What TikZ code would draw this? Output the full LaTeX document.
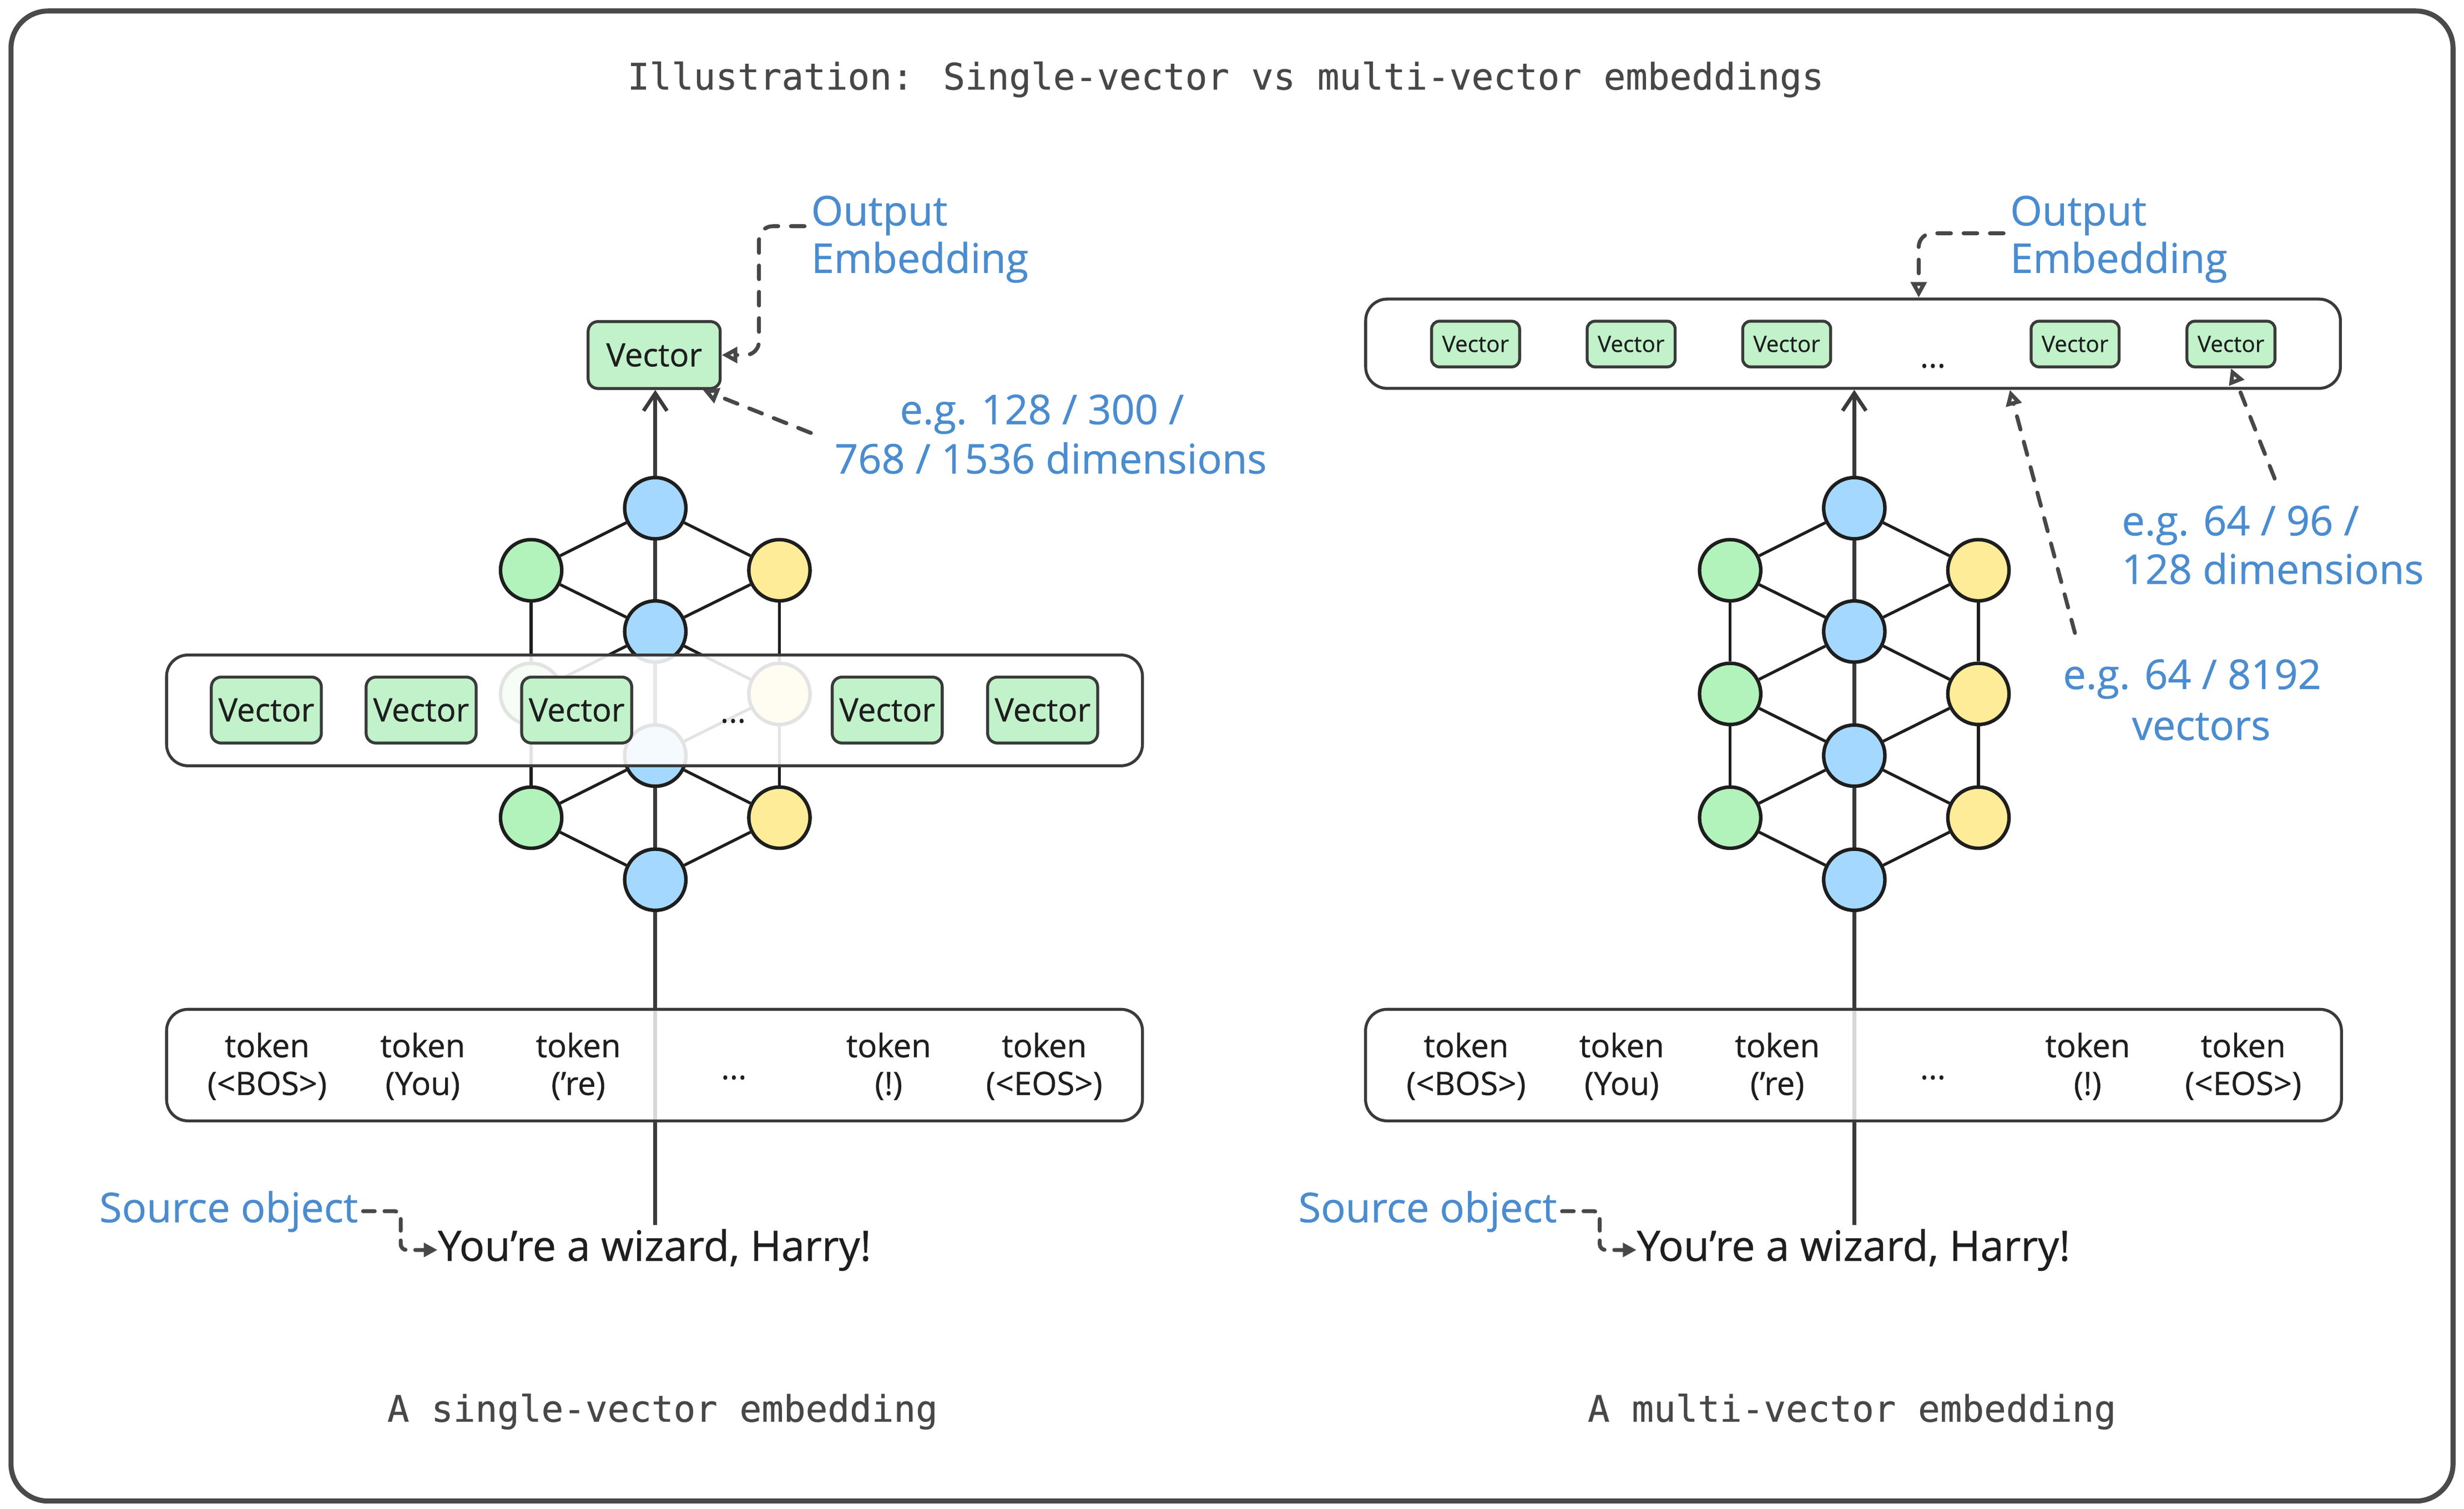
\documentclass[tikz,border=0pt]{standalone}
\usepackage{fontspec}
\usetikzlibrary{arrows.meta,calc}
\newfontfamily\handfont[FakeBold=0.6]{Open Sans}
\newfontfamily\titlefont[FakeBold=0.4]{DejaVu Sans Mono}
\definecolor{ink}{HTML}{1E1E1E}
\definecolor{boxline}{HTML}{3A3A3A}
\definecolor{framegray}{HTML}{4A4A4A}
\definecolor{dashgray}{HTML}{474747}
\definecolor{annblue}{HTML}{4A8CCF}
\definecolor{gfill}{HTML}{B2F2BB}
\definecolor{bfill}{HTML}{A5D8FF}
\definecolor{yfill}{HTML}{FFEC99}
\definecolor{vfill}{HTML}{C1F2CA}
\definecolor{capgray}{HTML}{474747}
\pgfdeclarelayer{edges}
\pgfdeclarelayer{veil}
\pgfdeclarelayer{front}
\pgfsetlayers{edges,main,veil,front}
\tikzset{
  netnode/.style={circle, draw=ink, line width=1.8pt, minimum size=31.4pt, inner sep=0pt},
  bnode/.style={netnode, fill=bfill},
  gnode/.style={netnode, fill=gfill},
  ynode/.style={netnode, fill=yfill},
  netedge/.style={draw=ink, line width=1.5pt},
  vecbig/.style={draw=boxline, fill=vfill, line width=1.5pt, rounded corners=5pt,
    minimum width=67.7pt, minimum height=34.3pt, inner sep=0pt,
    font=\handfont\fontsize{16.5}{19}\selectfont, text=ink},
  vecmid/.style={vecbig, minimum width=56.4pt, minimum height=33.8pt},
  vecsmall/.style={vecbig, minimum width=45.1pt, minimum height=23.4pt, rounded corners=4pt,
    font=\handfont\fontsize{11.5}{13}\selectfont},
  panel/.style={draw=boxline, line width=1.5pt, rounded corners=11pt, fill=white,
    minimum width=500.3pt, inner sep=0pt},
  tok/.style={font=\handfont\fontsize{16.5}{19}\selectfont, text=ink, inner sep=0pt, anchor=base},
  ann/.style={font=\handfont\fontsize{21}{25}\selectfont, text=annblue, inner sep=0pt},
  sentence/.style={font=\handfont\fontsize{21.5}{25}\selectfont, text=ink, inner sep=0pt, anchor=base west},
  captext/.style={font=\titlefont\fontsize{18.75}{22}\selectfont, text=capgray, inner sep=0pt, anchor=base},
  mainarrow/.style={draw=boxline, line width=1.9pt, -{Straight Barb[length=9pt,width=12pt]}},
  dasharrow/.style={draw=dashgray, line width=2pt, line cap=round, dash pattern=on 7pt off 6.5pt,
    rounded corners=7pt, -{Triangle[open,length=8pt,width=8pt]}},
  srcarrow/.style={draw=dashgray, line width=2pt, line cap=round, dash pattern=on 6pt off 5pt,
    rounded corners=3pt, -{Triangle[length=7pt,width=7pt]}},
}
\newcommand\netdraw{%
  \foreach \i/\yy in {1/323.5,2/402,3/481,4/560} {\node[bnode] (b\i) at (0,\yy) {};}
  \foreach \i/\yy in {1/363,2/441.7,3/520.5} {%
    \node[gnode] (g\i) at (-79,\yy) {};
    \node[ynode] (y\i) at (79,\yy) {};}
  \begin{pgfonlayer}{edges}
    \foreach \a/\b in {b1/g1,b1/y1,g1/b2,y1/b2,b2/g2,b2/y2,g2/b3,y2/b3,b3/g3,b3/y3,g3/b4,y3/b4,g1/g2,g2/g3,y1/y2,y2/y3}
      {\draw[netedge] (\a) -- (\b);}
  \end{pgfonlayer}
}
\begin{document}
\begin{tikzpicture}[x=0.8056pt,y=-0.8056pt]
\useasboundingbox (0,0) rectangle (1568,960.5);
\draw[draw=framegray, line width=2.6pt, rounded corners=19pt] (7,7) rectangle (1561,955.5);
\node[captext] (title) at (780,57) {Illustration: Single-vector vs multi-vector embeddings};

% networks
\begin{scope}[shift={(417,0)}, name prefix=L-]\netdraw\end{scope}
\begin{scope}[shift={(1180,0)}, name prefix=R-]\netdraw\end{scope}

% output elements
\begin{pgfonlayer}{front}
  \node[vecbig] (Lvec) at (416.3,226) {Vector};
\end{pgfonlayer}
\node[panel, minimum width=499.7pt, minimum height=45.8pt] (Rbox) at (1179.2,218.8) {};

% main vertical arrows
\coordinate (Lsrcend) at (417,779.7);
\coordinate (Rsrcend) at (1180,779.7);
\begin{pgfonlayer}{edges}
  \draw[mainarrow] (Lsrcend) -- (Lsrcend |- Lvec.south);
  \draw[mainarrow] (Rsrcend) -- (Rsrcend |- Rbox.south);
\end{pgfonlayer}

% translucent panels
\begin{pgfonlayer}{veil}
  \node[panel, fill opacity=0.88, minimum height=56.8pt] (Lmid) at (416.5,452.2) {};
  \node[panel, fill opacity=0.8, minimum height=57.2pt] (Ltok) at (416.5,678) {};
  \node[panel, fill opacity=0.8, minimum height=57.2pt] (Rtok) at (1179.5,678) {};
\end{pgfonlayer}

\begin{pgfonlayer}{front}
  % middle vectors (left)
  \foreach \i/\xx in {1/169.5,2/268,3/367,5/564.6,6/663.5} {\node[vecmid] (Lm\i) at (\xx,452) {Vector};}
  \node[tok] (Lmdots) at (466.5,460) {...};
  % small vectors (right)
  \foreach \i/\xx in {1/939,2/1038,3/1137,4/1320.5,5/1419.7} {\node[vecsmall] (Rv\i) at (\xx,219) {Vector};}
  \node[tok] (Rvdots) at (1230,234) {...};
  % tokens
  \foreach \i/\xx/\t in {1/170/{(<BOS>)},2/269/{(You)},3/368/{(’re)},5/565.5/{(!)},6/664.5/{(<EOS>)}} {
    \node[tok] (Lt\i-a) at (\xx,673) {token};
    \node[tok] (Lt\i-b) at (\xx,697) {\t};
    \node[tok] (Rt\i-a) at (\xx+763,673) {token};
    \node[tok] (Rt\i-b) at (\xx+763,697) {\t};
  }
  \node[tok] (Ltdots) at (467,687) {...};
  \node[tok] (Rtdots) at (1230,687) {...};

  % left annotations
  \node[ann, anchor=base west] (LoutA) at (516,143.5) {Output};
  \node[ann, anchor=base west] (LoutB) at (516,173.7) {Embedding};
  \coordinate (LoutS) at (512,144);
  \coordinate (LoutK) at (483,144);
  \draw[dasharrow] (LoutS) -- (LoutK) |- (Lvec.east);
  \node[ann, anchor=base] (LdimA) at (663,270) {e.g. 128 / 300 /};
  \node[ann, anchor=base] (LdimB) at (668.6,301.4) {768 / 1536 dimensions};
  \coordinate (LdimS) at (516,275.6);
  \draw[dasharrow] (LdimS) -- ($(Lvec.south east)+(-12,0)$);

  % right annotations
  \node[ann, anchor=base west] (RoutA) at (1279,143.5) {Output};
  \node[ann, anchor=base west] (RoutB) at (1279,173.7) {Embedding};
  \coordinate (RoutS) at (1275,148.5);
  \coordinate (RoutK) at (1221,148.5);
  \draw[dasharrow] (RoutS) -- (RoutK) -- (RoutK |- Rbox.north);
  \node[ann, anchor=base west] (RdimA) at (1350,340.8) {e.g. 64 / 96 /};
  \node[ann, anchor=base west] (RdimB) at (1350,371.7) {128 dimensions};
  \coordinate (RdimS) at (1447.5,304.6);
  \draw[dasharrow] (RdimS) -- (Rv5.south);
  \node[ann, anchor=base] (RvecA) at (1395,438.6) {e.g. 64 / 8192};
  \node[ann, anchor=base] (RvecB) at (1400.8,471) {vectors};
  \coordinate (RvecS) at (1320.4,402.9);
  \coordinate (RvecT) at (1279,300);
  \draw[dasharrow] (RvecS) -- (RvecT |- Rbox.south);

  % source objects
  \node[ann, anchor=base west] (Lsrc) at (63,778) {Source object};
  \node[sentence] (Lsent) at (278.4,802.6) {You’re a wizard, Harry!};
  \coordinate (LsrcK) at (255,771);
  \draw[srcarrow] ($(Lsrc.base east)+(3,-7)$) -- (LsrcK) |- (Lsent.west);
  \node[ann, anchor=base west] (Rsrc) at (826,778) {Source object};
  \node[sentence] (Rsent) at (1041.4,802.6) {You’re a wizard, Harry!};
  \coordinate (RsrcK) at (1018,771);
  \draw[srcarrow] ($(Rsrc.base east)+(3,-7)$) -- (RsrcK) |- (Rsent.west);

  % captions
  \node[captext] (Lcap) at (421.6,905) {A single-vector embedding};
  \node[captext] (Rcap) at (1178.5,905) {A multi-vector embedding};
\end{pgfonlayer}
\end{tikzpicture}
\end{document}
